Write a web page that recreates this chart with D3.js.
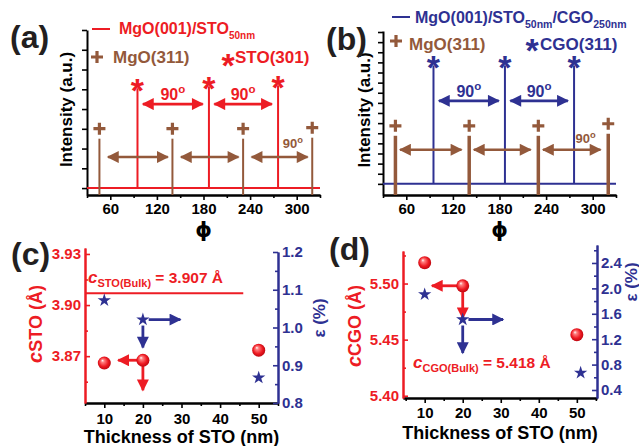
<!DOCTYPE html>
<meta charset="utf-8">
<head>
    <script src="https://d3js.org/d3.v7.min.js"></script>
</head>
<body style="margin:0; background:#fff;">
    <div id="svg_div"></div>
</body>
<style>
    text { font-family: "Liberation Sans", Arial, sans-serif; font-weight: bold; }
</style>
<script>
    // ---- data ----
    var phi_ticks = [60, 120, 180, 240, 300];
    var phi_minor = [30, 90, 150, 210, 270, 330];

    var mgo_phi_a = [46, 140, 231, 320];
    var mgo_int_a = [2.5, 2.5, 2.5, 2.55];
    var sto_phi = [95, 187, 276];
    var sto_int = [5.05, 5.15, 5.2];

    var mgo_phi_b = [46, 141, 230, 320];
    var mgo_int_b = [4.75, 4.75, 4.75, 4.95];
    var cgo_phi = [95, 187, 276];
    var cgo_int = [11.7, 11.7, 11.7];

    var thickness = [10, 20, 50];
    var thickness_ticks = [10, 20, 30, 40, 50];
    var thickness_minor = [5, 15, 25, 35, 45, 55];
    var c_sto = [3.866, 3.8676, 3.8735];
    var strain_sto = [1.072, 1.021, 0.867];
    var star_x_sto = [10, 20, 50];
    var c_cgo = [5.5186, 5.498, 5.4544];
    var strain_cgo = [1.905, 1.51, 0.67];
    var star_x_cgo = [10, 20, 51];
    var c_sto_bulk = 3.907, c_cgo_bulk = 5.418;

    var red = "#ed1c24", blue = "#2e3192", brown = "#93593b", dark = "#231f20";

    var svg = d3.select("#svg_div").append("svg")
        .attr("width", 639).attr("height", 446);

    var defs = svg.append("defs");
    [["red", red], ["blue", blue], ["brown", brown]].forEach(function (c) {
        defs.append("marker").attr("id", "head-" + c[0])
            .attr("viewBox", "0 0 10 10").attr("refX", 9).attr("refY", 5)
            .attr("markerWidth", 14).attr("markerHeight", 12)
            .attr("markerUnits", "userSpaceOnUse")
            .attr("orient", "auto-start-reverse")
            .append("path").attr("d", "M0,0L10,5L0,10z").attr("fill", c[1]);
    });
    var grad = defs.append("radialGradient").attr("id", "ball")
        .attr("cx", 0.5).attr("cy", 0.5).attr("r", 0.6).attr("fx", 0.35).attr("fy", 0.3);
    grad.append("stop").attr("offset", 0).attr("stop-color", "#ffffff");
    grad.append("stop").attr("offset", 0.2).attr("stop-color", "#ff8080");
    grad.append("stop").attr("offset", 0.6).attr("stop-color", "#ee1a22");
    grad.append("stop").attr("offset", 1).attr("stop-color", "#a8000a");

    function style_axis(sel, color, size) {
        sel.attr("font-size", size || 15).attr("font-family", null);
        sel.select(".domain").attr("stroke", color).attr("stroke-width", 2);
        sel.selectAll(".tick line").attr("stroke", color).attr("stroke-width", 1.6);
        sel.selectAll(".tick text").attr("fill", color);
    }

    function rich_text(g, x, y, size, color, parts, anchor) {
        var t = g.append("text").attr("x", x).attr("y", y).attr("fill", color)
            .style("font-size", size + "px").attr("text-anchor", anchor || "start");
        var shift = 0;
        parts.forEach(function (p) {
            var want = p.shift || 0;
            t.append("tspan").attr("dy", want - shift)
                .style("font-size", (p.size || size) + "px")
                .style("font-style", p.italic ? "italic" : "normal")
                .text(p.text);
            shift = want;
        });
        return t;
    }

    function arrow(g, x1, y1, x2, y2, color, name, both, w) {
        var l = g.append("line").attr("x1", x1).attr("y1", y1).attr("x2", x2).attr("y2", y2)
            .attr("stroke", color).attr("stroke-width", w || 2.5)
            .attr("marker-end", "url(#head-" + name + ")");
        if (both) l.attr("marker-start", "url(#head-" + name + ")");
    }

    function plus(g, cx, cy, color, s) {
        g.append("path").attr("d", "M" + (cx - s) + "," + cy + "H" + (cx + s) + "M" + cx + "," + (cy - s) + "V" + (cy + s))
            .attr("stroke", color).attr("stroke-width", 3.2).attr("fill", "none");
    }

    function asterisk(g, cx, cy, color, size) {
        g.append("text").attr("x", cx).attr("y", cy + size * 0.58)
            .attr("text-anchor", "middle").attr("fill", color)
            .style("font-size", size + "px").text("*");
    }

    function deg_label(g, cx, base, size, color) {
        rich_text(g, cx, base, size, color, [
            { text: "90" },
            { text: "o", size: size * 0.72, shift: -size * 0.42 }
        ], "middle");
    }

    function panel_letter(x, y, s) {
        svg.append("text").attr("x", x).attr("y", y).attr("fill", dark)
            .style("font-size", "32px").text(s);
    }

    // ---------- (a) and (b): phi scans ----------
    function draw_spectrum(p) {
        var g = svg.append("g");
        var x = d3.scaleLinear().domain([30, 330]).range([p.left, p.right]);
        var y = d3.scaleLinear().domain(p.ydomain).range([p.bottom, p.top]);

        g.append("g").attr("transform", "translate(0," + p.bottom + ")")
            .call(d3.axisBottom(x).tickValues(phi_minor).tickFormat("").tickSize(3).tickSizeOuter(0))
            .call(style_axis, "#000");
        g.append("g").attr("transform", "translate(0," + p.bottom + ")")
            .call(d3.axisBottom(x).tickValues(phi_ticks).tickSize(5).tickSizeOuter(0).tickPadding(3))
            .call(style_axis, "#000");
        g.append("g").attr("transform", "translate(" + p.left + ",0)")
            .call(d3.axisLeft(y).tickValues(d3.range(0, p.nticks + 1)).tickFormat("").tickSize(5).tickSizeOuter(0))
            .call(style_axis, "#000");

        // substrate baseline
        g.append("line").attr("x1", x(30)).attr("x2", x(330))
            .attr("y1", y(0)).attr("y2", y(0))
            .attr("stroke", p.color).attr("stroke-width", 2);

        // MgO(311) peaks
        g.selectAll(".mgo").data(p.mgo_phi).enter().append("line")
            .attr("x1", function (d) { return x(d); }).attr("x2", function (d) { return x(d); })
            .attr("y1", y(p.ydomain[0]))
            .attr("y2", function (d, i) { return y(p.mgo_int[i]); })
            .attr("stroke", brown).attr("stroke-width", p.mgo_w);
        p.mgo_phi.forEach(function (d, i) { plus(g, x(d), y(p.mgo_int[i]) - 10, brown, 6); });

        // film peaks
        g.selectAll(".film").data(p.film_phi).enter().append("line")
            .attr("x1", function (d) { return x(d); }).attr("x2", function (d) { return x(d); })
            .attr("y1", y(0))
            .attr("y2", function (d, i) { return y(p.film_int[i]); })
            .attr("stroke", p.color).attr("stroke-width", 2);
        p.film_phi.forEach(function (d, i) { asterisk(g, x(d), y(p.film_int[i]) - 6, p.color, 34); });

        // 90 degree arrows between film peaks
        for (var i = 0; i < p.film_phi.length - 1; i++) {
            var a = p.film_phi[i] + 7, b = p.film_phi[i + 1] - 8;
            arrow(g, x(a), y(p.film_arrow_y), x(b), y(p.film_arrow_y), p.color, p.name, true, 2.8);
            deg_label(g, x((a + b) / 2), y(p.film_arrow_y) - 4, 16, p.color);
        }
        // 90 degree arrows between MgO peaks
        for (var j = 0; j < p.mgo_phi.length - 1; j++) {
            var c = p.mgo_phi[j] + p.mgo_gap[0], e = p.mgo_phi[j + 1] - p.mgo_gap[1];
            arrow(g, x(c), y(p.mgo_arrow_y), x(e), y(p.mgo_arrow_y), brown, "brown", true, 2.5);
        }
        deg_label(g, x(p.mgo_label_phi), p.mgo_label_base, 13, brown);

        // axis titles
        g.append("text").attr("transform", "translate(" + p.ylab_x + "," + ((p.top + p.bottom) / 2 - 3) + ") rotate(-90)")
            .attr("text-anchor", "middle").style("font-size", "17px").attr("fill", "#000")
            .text("Intensity (a.u.)");
        g.append("text").attr("x", (p.left + p.right) / 2).attr("y", p.bottom + 42)
            .attr("text-anchor", "middle").style("font-size", "21px").style("font-family", "DejaVu Sans")
            .attr("fill", "#000").text("\u03D5");
        return g;
    }

    var ga = draw_spectrum({
        left: 87, right: 320, top: 30, bottom: 195, ydomain: [-0.35, 8], nticks: 8,
        color: red, name: "red", mgo_w: 2,
        mgo_phi: mgo_phi_a, mgo_int: mgo_int_a, film_phi: sto_phi, film_int: sto_int,
        film_arrow_y: 4.25, mgo_arrow_y: 1.57, mgo_gap: [11, 6],
        mgo_label_phi: 295, mgo_label_base: 148, ylab_x: 72
    });
    var gb = draw_spectrum({
        left: 383, right: 616, top: 31, bottom: 195, ydomain: [-1.1, 15.1], nticks: 15,
        color: blue, name: "blue", mgo_w: 3.5,
        mgo_phi: mgo_phi_b, mgo_int: mgo_int_b, film_phi: cgo_phi, film_int: cgo_int,
        film_arrow_y: 8.2, mgo_arrow_y: 3.37, mgo_gap: [6, 10],
        mgo_label_phi: 291, mgo_label_base: 143, ylab_x: 370
    });

    // legends (a)
    ga.append("line").attr("x1", 92).attr("x2", 110).attr("y1", 29).attr("y2", 29)
        .attr("stroke", red).attr("stroke-width", 2);
    rich_text(ga, 119, 34, 16, red, [{ text: "MgO(001)/STO" }, { text: "50nm", size: 10, shift: 5 }]);
    plus(ga, 97, 57, brown, 6);
    rich_text(ga, 113, 63, 17, brown, [{ text: "MgO(311)" }]);
    asterisk(ga, 228, 57, red, 34);
    rich_text(ga, 235, 63, 17, red, [{ text: "STO(301)" }]);

    // legends (b)
    gb.append("line").attr("x1", 392).attr("x2", 410).attr("y1", 17).attr("y2", 17)
        .attr("stroke", blue).attr("stroke-width", 2);
    rich_text(gb, 415, 23, 16, blue, [
        { text: "MgO(001)/STO" }, { text: "50nm", size: 10.5, shift: 5 },
        { text: "/CGO" }, { text: "250nm", size: 10.5, shift: 5 }
    ]);
    plus(gb, 396, 41, brown, 6);
    rich_text(gb, 409, 50, 17, brown, [{ text: "MgO(311)" }]);
    asterisk(gb, 532, 42, blue, 34);
    rich_text(gb, 540, 50, 17, blue, [{ text: "CGO(311)" }]);

    // ---------- (c) and (d): lattice parameter / strain ----------
    function draw_lattice(p) {
        var g = svg.append("g");
        var x = d3.scaleLinear().domain(p.xdomain).range([p.left, p.right]);
        var yl = d3.scaleLinear().domain(p.ldomain).range([p.bottom, p.ltop]);
        var yr = d3.scaleLinear().domain(p.rdomain).range([p.bottom, p.rtop]);

        g.append("g").attr("transform", "translate(0," + p.bottom + ")")
            .call(d3.axisBottom(x).tickValues(thickness_minor).tickFormat("").tickSize(3).tickSizeOuter(0))
            .call(style_axis, "#000");
        g.append("g").attr("transform", "translate(0," + p.bottom + ")")
            .call(d3.axisBottom(x).tickValues(thickness_ticks).tickSize(5).tickSizeOuter(0).tickPadding(p.xpad))
            .call(style_axis, "#000");

        g.append("g").attr("transform", "translate(" + p.left + ",0)")
            .call(d3.axisLeft(yl).tickValues(p.lminor).tickFormat("").tickSize(-3).tickSizeOuter(0))
            .call(style_axis, red);
        g.append("g").attr("transform", "translate(" + p.left + ",0)")
            .call(d3.axisLeft(yl).tickValues(p.lticks).tickFormat(d3.format(".2f")).tickSize(-5).tickSizeOuter(0).tickPadding(4))
            .call(style_axis, red);

        g.append("g").attr("transform", "translate(" + p.right + ",0)")
            .call(d3.axisRight(yr).tickValues(p.rminor).tickFormat("").tickSize(-3).tickSizeOuter(0))
            .call(style_axis, blue);
        g.append("g").attr("transform", "translate(" + p.right + ",0)")
            .call(d3.axisRight(yr).tickValues(p.rticks).tickFormat(d3.format(".1f")).tickSize(-5).tickSizeOuter(0).tickPadding(4))
            .call(style_axis, blue);

        if (p.bulk_line) {
            g.append("line").attr("x1", x(p.xdomain[0])).attr("x2", x(p.bulk_line_end))
                .attr("y1", yl(p.bulk)).attr("y2", yl(p.bulk))
                .attr("stroke", red).attr("stroke-width", 2);
        }

        // arrows from the 20 nm points
        arrow(g, x(19.5), yl(p.c[1]), x(p.red_left_to), yl(p.c[1]), red, "red", false, 2.8);
        arrow(g, x(20), yl(p.c[1]) + 5, x(20), yl(p.red_down_to), red, "red", false, 2.8);
        arrow(g, x(21.5), yr(p.strain[1]), x(p.blue_right_to), yr(p.strain[1]), blue, "blue", false, 2.8);
        arrow(g, x(20), yr(p.strain[1]) + 6, x(20), yr(p.blue_down_to), blue, "blue", false, 2.8);

        g.selectAll(".ball").data(thickness).enter().append("circle")
            .attr("cx", function (d) { return x(d); })
            .attr("cy", function (d, i) { return yl(p.c[i]); })
            .attr("r", 6.5).attr("fill", "url(#ball)");
        g.selectAll(".star").data(p.star_x).enter().append("path")
            .attr("d", d3.symbol().type(d3.symbolStar).size(55))
            .attr("transform", function (d, i) { return "translate(" + x(d) + "," + yr(p.strain[i]) + ")"; })
            .attr("fill", blue);

        rich_text(g, p.bulk_label[0], p.bulk_label[1], 15.5, red, [
            { text: "c", italic: true, size: 17 },
            { text: p.film + "(Bulk)", size: 11, shift: 4 },
            { text: " = " + p.bulk.toFixed(3) + " \u00C5" }
        ]);

        // axis titles
        rich_text(g, 0, 0, 18, red, [
            { text: "c", italic: true, size: 20 },
            { text: p.film, size: 18, shift: 0 },
            { text: " (\u00C5)" }
        ], "middle").attr("transform", "translate(" + p.llab_x + "," + p.llab_y + ") rotate(-90)");
        g.append("text").attr("transform", "translate(" + p.rlab_x + "," + p.rlab_y + ") rotate(-90)")
            .attr("text-anchor", "middle").style("font-size", "17px").attr("fill", blue)
            .text("\u03B5 (%)");
        g.append("text").attr("x", (p.left + p.right) / 2).attr("y", p.xlab_y)
            .attr("text-anchor", "middle").style("font-size", "18px").attr("fill", "#000")
            .text("Thickness of STO (nm)");
    }

    draw_lattice({
        left: 85, right: 278, bottom: 403, ltop: 248, rtop: 252, xpad: 5, xlab_y: 443,
        xdomain: [5, 55], ldomain: [3.8425, 3.9335], rdomain: [0.8, 1.2],
        lticks: [3.87, 3.90, 3.93], lminor: [3.855, 3.885, 3.915],
        rticks: [0.8, 0.9, 1.0, 1.1, 1.2], rminor: [0.85, 0.95, 1.05, 1.15],
        c: c_sto, strain: strain_sto, star_x: star_x_sto, film: "STO",
        bulk: c_sto_bulk, bulk_line: true, bulk_line_end: 46, bulk_label: [88, 283],
        red_left_to: 13.6, red_down_to: 3.850, blue_right_to: 29.7, blue_down_to: 0.947,
        llab_x: 42, llab_y: 324, rlab_x: 325, rlab_y: 318
    });
    draw_lattice({
        left: 403, right: 597, bottom: 398, ltop: 251, rtop: 245, xpad: 4, xlab_y: 439,
        xdomain: [4.3, 55.3], ldomain: [5.398, 5.529], rdomain: [0.274, 2.683],
        lticks: [5.40, 5.45, 5.50], lminor: [5.425, 5.475, 5.525],
        rticks: [0.4, 0.8, 1.2, 1.6, 2.0, 2.4], rminor: [0.6, 1.0, 1.4, 1.8, 2.2, 2.6],
        c: c_cgo, strain: strain_cgo, star_x: star_x_cgo, film: "CGO",
        bulk: c_cgo_bulk, bulk_line: false, bulk_label: [413, 368],
        red_left_to: 11.9, red_down_to: 5.469, blue_right_to: 30.6, blue_down_to: 0.983,
        llab_x: 361, llab_y: 326, rlab_x: 637, rlab_y: 282
    });

    panel_letter(10, 48, "(a)");
    panel_letter(326, 50, "(b)");
    panel_letter(11, 265, "(c)");
    panel_letter(329, 260, "(d)");
</script>
